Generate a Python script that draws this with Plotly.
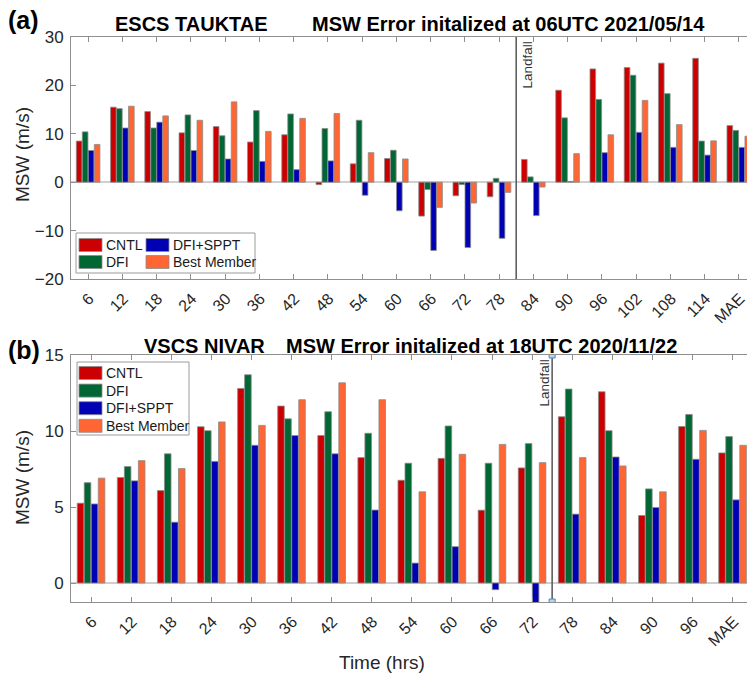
import plotly.graph_objects as go

# ---------------- data ----------------
cats_a = ["6", "12", "18", "24", "30", "36", "42", "48", "54", "60", "66", "72", "78",
          "84", "90", "96", "102", "108", "114", "MAE"]
cntl_a = [8.5, 15.5, 14.6, 10.2, 11.5, 8.3, 9.8, -0.5, 3.8, 4.9, -7.0, -2.8, -3.0,
          4.7, 19.0, 23.4, 23.7, 24.6, 25.6, 11.7]
dfi_a = [10.4, 15.2, 11.2, 13.9, 9.6, 14.8, 14.1, 11.1, 12.8, 6.6, -1.5, -0.5, 0.8,
         1.1, 13.3, 17.1, 22.1, 18.3, 8.5, 10.7]
sppt_a = [6.55, 11.2, 12.4, 6.55, 4.8, 4.3, 2.6, 4.4, -2.7, -5.9, -14.1, -13.5, -11.6,
          -6.9, 0.15, 6.1, 10.3, 7.2, 5.6, 7.2]
best_a = [7.8, 15.7, 13.7, 12.8, 16.6, 10.5, 13.2, 14.2, 6.1, 4.8, -5.2, -4.3, -2.1,
          -1.0, 5.9, 9.8, 16.9, 11.9, 8.55, 9.5]

cats_b = ["6", "12", "18", "24", "30", "36", "42", "48", "54", "60", "66", "72", "78",
          "84", "90", "96", "MAE"]
cntl_b = [5.25, 6.94, 6.08, 10.28, 12.8, 11.64, 9.7, 8.25, 6.76, 8.2, 4.79, 7.57, 10.94,
          12.58, 4.44, 10.3, 8.56]
dfi_b = [6.6, 7.66, 8.5, 10.02, 13.7, 10.8, 11.27, 9.85, 7.88, 10.33, 7.88, 9.17, 12.76,
         10.02, 6.19, 11.09, 9.63]
sppt_b = [5.2, 6.72, 4.0, 8.0, 9.06, 9.7, 8.5, 4.8, 1.31, 2.39, -0.44, -1.5, 4.53,
          8.29, 4.97, 8.14, 5.47]
best_b = [6.9, 8.05, 7.53, 10.6, 10.37, 12.06, 13.17, 12.06, 6.0, 8.47, 9.12, 7.92, 8.25,
          7.7, 6.0, 10.04, 9.06]

series_names = ["CNTL", "DFI", "DFI+SPPT", "Best Member"]
colors = ["#CC0000", "#006633", "#0000B4", "#FF6633"]

W, H = 747, 677
FONT = "Liberation Sans, Arial, sans-serif"


def px(x):
    return x / W


def py(y):
    return 1 - y / H


fig = go.Figure()
for vals, name, col in zip([cntl_a, dfi_a, sppt_a, best_a], series_names, colors):
    fig.add_trace(go.Bar(x=cats_a, y=vals, name=name, marker_color=col,
                         marker_line_color="#8c8c8c", marker_line_width=0.8,
                         xaxis="x", yaxis="y", showlegend=False))
for vals, name, col in zip([cntl_b, dfi_b, sppt_b, best_b], series_names, colors):
    fig.add_trace(go.Bar(x=cats_b, y=vals, name=name, marker_color=col,
                         marker_line_color="#8c8c8c", marker_line_width=0.8,
                         xaxis="x2", yaxis="y2", showlegend=False))

axcol = "#8f8f8f"
tickfont = dict(family=FONT, size=16, color="#262626")
common_x = dict(type="category", ticks="inside", ticklen=5, tickcolor=axcol,
                showline=True, linecolor=axcol, linewidth=1, mirror="ticks",
                tickangle=-45, tickfont=tickfont, showgrid=False, automargin=False,
                ticklabelshift=1, ticklabelstandoff=3)
common_y = dict(ticks="inside", ticklen=5, tickcolor=axcol, showline=True,
                linecolor=axcol, linewidth=1, showgrid=False, zeroline=True,
                zerolinecolor="#cfcfcf", zerolinewidth=1.5, automargin=False,
                tickfont=dict(family=FONT, size=17, color="#262626"),
                ticklabelstandoff=3)

fig.update_layout(
    width=W, height=H, margin=dict(l=0, r=0, t=0, b=0, autoexpand=False),
    paper_bgcolor="white", plot_bgcolor="white",
    barmode="group", bargap=0.3, bargroupgap=0.06,
    xaxis=dict(domain=[px(71), 1], anchor="y", range=[-0.5, 19.24], **common_x),
    yaxis=dict(domain=[py(279), py(37)], anchor="x", range=[-20, 30], dtick=10,
               **common_y),
    xaxis2=dict(domain=[px(71), 1], anchor="y2", range=[-0.5, 16.36], **common_x),
    yaxis2=dict(domain=[py(602), py(355)], anchor="x2", range=[-1.25, 15], dtick=5,
                **common_y),
    font=dict(family=FONT),
)

shapes = []
annotations = []

# landfall lines
shapes.append(dict(type="line", xref="x", yref="y domain", x0=12.5, x1=12.5, y0=0, y1=1,
                   line=dict(color="#555555", width=1.5)))
shapes.append(dict(type="line", xref="x2", yref="y2 domain", x0=11.5, x1=11.5, y0=0, y1=1,
                   line=dict(color="#555555", width=1.5)))
for yv in [15, -1.25]:
    shapes.append(dict(type="rect", xref="x2", yref="y2", xsizemode="pixel",
                       ysizemode="pixel", xanchor=11.5, yanchor=yv, x0=-3, x1=3,
                       y0=-3, y1=3, fillcolor="#bcd4ec", line=dict(color="#4a86c6", width=1)))

annotations.append(dict(text="Landfall", x=px(527), y=py(40), xref="paper", yref="paper",
                        textangle=-90, xanchor="center", yanchor="top", showarrow=False,
                        font=dict(family=FONT, size=13.5, color="#333333")))
annotations.append(dict(text="Landfall", x=px(544), y=py(358), xref="paper", yref="paper",
                        textangle=-90, xanchor="center", yanchor="top", showarrow=False,
                        font=dict(family=FONT, size=13.5, color="#333333")))

# titles
tfont = dict(family=FONT, size=20, color="black")
annotations += [
    dict(text="<b>ESCS TAUKTAE</b>", x=px(113), y=py(24), xanchor="left", yanchor="middle",
         xref="paper", yref="paper", showarrow=False, font=tfont),
    dict(text="<b>MSW Error initalized at 06UTC 2021/05/14</b>", x=px(310), y=py(24),
         xanchor="left", yanchor="middle", xref="paper", yref="paper", showarrow=False,
         font=tfont),
    dict(text="<b>VSCS NIVAR</b>", x=px(142), y=py(346), xanchor="left", yanchor="middle",
         xref="paper", yref="paper", showarrow=False, font=tfont),
    dict(text="<b>MSW Error initalized at 18UTC 2020/11/22</b>", x=px(284), y=py(346),
         xanchor="left", yanchor="middle", xref="paper", yref="paper", showarrow=False,
         font=tfont),
    dict(text="<b>(a)</b>", x=px(6), y=py(20), xanchor="left", yanchor="middle",
         xref="paper", yref="paper", showarrow=False,
         font=dict(family=FONT, size=25, color="black")),
    dict(text="<b>(b)</b>", x=px(6), y=py(350), xanchor="left", yanchor="middle",
         xref="paper", yref="paper", showarrow=False,
         font=dict(family=FONT, size=25, color="black")),
]

# axis titles
afont = dict(family=FONT, size=19, color="#262626")
annotations += [
    dict(text="MSW (m/s)", x=px(22), y=py(155), textangle=-90, xref="paper", yref="paper",
         xanchor="center", yanchor="middle", showarrow=False, font=afont),
    dict(text="MSW (m/s)", x=px(22), y=py(478), textangle=-90, xref="paper", yref="paper",
         xanchor="center", yanchor="middle", showarrow=False, font=afont),
    dict(text="Time (hrs)", x=px(382), y=py(662), xref="paper", yref="paper",
         xanchor="center", yanchor="middle", showarrow=False, font=afont),
]

# legends (manual boxes)
lfont = dict(family=FONT, size=14, color="#1a1a1a")


def legend_box(x0, y0, x1, y1):
    shapes.append(dict(type="rect", xref="paper", yref="paper", x0=px(x0), x1=px(x1),
                       y0=py(y1), y1=py(y0), fillcolor="white",
                       line=dict(color="#9a9a9a", width=1)))


def legend_item(x, yc, name, col):
    shapes.append(dict(type="rect", xref="paper", yref="paper", x0=px(x), x1=px(x + 23),
                       y0=py(yc + 6.5), y1=py(yc - 6.5), fillcolor=col,
                       line=dict(color="#8c8c8c", width=0.8)))
    annotations.append(dict(text=name, x=px(x + 25), y=py(yc), xanchor="left",
                            yanchor="middle", xref="paper", yref="paper",
                            showarrow=False, font=lfont))


legend_box(76, 233, 255, 273)
legend_item(79, 245, series_names[0], colors[0])
legend_item(79, 262, series_names[1], colors[1])
legend_item(146, 245, series_names[2], colors[2])
legend_item(146, 262, series_names[3], colors[3])

legend_box(77, 362, 189, 435)
for i, (n, c) in enumerate(zip(series_names, colors)):
    legend_item(79, 373 + i * 17.6, n, c)

fig.update_layout(shapes=shapes, annotations=annotations)
fig.write_html("out.html")
